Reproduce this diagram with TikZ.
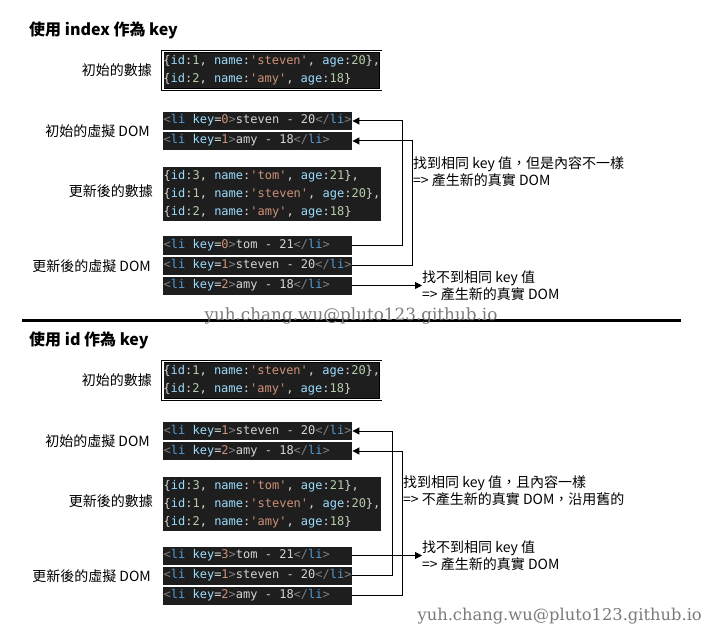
\documentclass[tikz,border=0pt]{standalone}
\usepackage{fontspec}
\usepackage{xcolor}
\usetikzlibrary{arrows.meta}
\setmainfont{Noto Sans CJK TC}
\newfontfamily\codefont{DejaVu Sans Mono}[Ligatures=TeXOff, WordSpace={1,0,0}]
\newfontfamily\markfont{DejaVu Serif}
\definecolor{codebg}{HTML}{1E1E1E}
\definecolor{codefg}{HTML}{D4D4D4}
\definecolor{jsprop}{HTML}{9CDCFE}
\definecolor{jsnum}{HTML}{B5CEA8}
\definecolor{jsstr}{HTML}{CE9178}
\definecolor{tagbr}{HTML}{808080}
\definecolor{tagnm}{HTML}{569CD6}
\newcommand{\jsprop}[1]{\textcolor{jsprop}{#1}}
\newcommand{\jsnum}[1]{\textcolor{jsnum}{#1}}
\newcommand{\jsstr}[1]{\textcolor{jsstr}{#1}}
\newcommand{\tagbr}[1]{\textcolor{tagbr}{#1}}
\newcommand{\tagnm}[1]{\textcolor{tagnm}{#1}}
\newcommand{\monosp}{\frenchspacing\spaceskip=0.6021em\relax}
\newcommand{\lirow}[3]{\monosp\tagbr{<}\tagnm{li} \jsprop{key}=\jsstr{#1}\tagbr{>}#2 - #3\tagbr{</}\tagnm{li}\tagbr{>}}
\newcommand{\objrow}[3]{\monosp\{\jsprop{id}:\jsnum{#1}, \jsprop{name}:\jsstr{'#2'}, \jsprop{age}:\jsnum{#3}\}}
\tikzset{
  domrow/.style={fill=codebg, text=codefg, anchor=west, inner xsep=0.5pt, inner ysep=0pt,
    minimum height=18pt, text width=188pt, align=left, text height=9pt, text depth=3pt,
    font=\codefont\fontsize{12}{14}\selectfont},
  jsdata/.style={fill=codebg, text=codefg, anchor=west, inner xsep=0.5pt, inner ysep=2pt,
    text width=217pt, align=left, font=\codefont\fontsize{12}{18}\selectfont},
  framed/.style={draw=black, line width=0.9pt, double=white, double distance=1.2pt},
  lbl/.style={anchor=east, inner sep=0pt, font=\fontsize{14}{17}\selectfont},
  ttl/.style={anchor=west, inner sep=0pt, font=\bfseries\fontsize{16}{19}\selectfont},
  note/.style={anchor=west, inner sep=0pt, align=left, font=\fontsize{14}{17}\selectfont},
  wmark/.style={inner sep=0pt, text=black!52, font=\markfont\fontsize{16.8}{19}\selectfont},
  link/.style={line width=1pt, -{Triangle[length=7pt,width=7pt]}}
}
\begin{document}
\begin{tikzpicture}[x=1pt, y=-1pt]
\useasboundingbox (0,0) rectangle (704,631);
% index as key
\node[ttl] (ttitle) at (29,30) {使用 index 作為 key};
\node[lbl] (tlbl1) at (152,70) {初始的數據};
\node[jsdata, framed, minimum height=38pt] (tdata1) at (162.5,70.5) {\objrow{1}{steven}{20},\\\objrow{2}{amy}{18}};
\node[lbl] (tlbl2) at (150,131) {初始的虛擬 DOM};
\node[domrow] (ti1) at (163,121) {\lirow{0}{steven}{20}};
\node[domrow] (ti2) at (163,141) {\lirow{1}{amy}{18}};
\node[lbl] (tlbl3) at (153,191) {更新後的數據};
\node[jsdata, minimum height=54pt] (tdata2) at (163,194) {\objrow{3}{tom}{21},\\\objrow{1}{steven}{20},\\\objrow{2}{amy}{18}};
\node[lbl] (tlbl4) at (151,266) {更新後的虛擬 DOM};
\node[domrow] (tu1) at (163,245.5) {\lirow{0}{tom}{21}};
\node[domrow] (tu2) at (163,265.5) {\lirow{1}{steven}{20}};
\node[domrow] (tu3) at (163,285.5) {\lirow{2}{amy}{18}};
\node[note] (tnote1) at (413,171.5) {找到相同 key 值，但是內容不一樣\\=> 產生新的真實 DOM};
\node[note] (tnote2) at (422,286) {找不到相同 key 值\\=> 產生新的真實 DOM};
\coordinate (tbus1) at (402,0);
\coordinate (tbus2) at (412,0);
\draw[link] (tu1.east) -- (tu1.east -| tbus1) -- (ti1.east -| tbus1) -- (ti1.east);
\draw[link] (tu2.east) -- (tu2.east -| tbus2) -- (ti2.east -| tbus2) -- (ti2.east);
\draw[link] (tu3.east) -- (tu3.east -| tnote2.west);
% separator
\draw[line width=3pt] (22,320) -- (681,320);
\node[wmark] (wmark1) at (351,316) {yuh.chang.wu@pluto123.github.io};
% id as key
\node[ttl] (btitle) at (29,340) {使用 id 作為 key};
\node[lbl] (blbl1) at (152,380) {初始的數據};
\node[jsdata, framed, minimum height=38pt] (bdata1) at (162.5,380.5) {\objrow{1}{steven}{20},\\\objrow{2}{amy}{18}};
\node[lbl] (blbl2) at (150,441) {初始的虛擬 DOM};
\node[domrow] (bi1) at (163,431) {\lirow{1}{steven}{20}};
\node[domrow] (bi2) at (163,451) {\lirow{2}{amy}{18}};
\node[lbl] (blbl3) at (153,501) {更新後的數據};
\node[jsdata, minimum height=54pt] (bdata2) at (163,504) {\objrow{3}{tom}{21},\\\objrow{1}{steven}{20},\\\objrow{2}{amy}{18}};
\node[lbl] (blbl4) at (151,576) {更新後的虛擬 DOM};
\node[domrow] (bu1) at (163,555.5) {\lirow{3}{tom}{21}};
\node[domrow] (bu2) at (163,575.5) {\lirow{1}{steven}{20}};
\node[domrow] (bu3) at (163,595.5) {\lirow{2}{amy}{18}};
\node[note] (bnote1) at (403,491) {找到相同 key 值，且內容一樣\\=> 不產生新的真實 DOM，沿用舊的};
\node[note] (bnote2) at (422,556) {找不到相同 key 值\\=> 產生新的真實 DOM};
\coordinate (bbus1) at (392,0);
\coordinate (bbus2) at (402,0);
\draw[link] (bu2.east) -- (bu2.east -| bbus1) -- (bi1.east -| bbus1) -- (bi1.east);
\draw[link] (bu3.east) -- (bu3.east -| bbus2) -- (bi2.east -| bbus2) -- (bi2.east);
\draw[link] (bu1.east) -- (bu1.east -| bnote2.west);
\node[wmark, anchor=east, font=\markfont\fontsize{16.3}{19}\selectfont] (wmark2) at (702,616) {yuh.chang.wu@pluto123.github.io};
\end{tikzpicture}
\end{document}
